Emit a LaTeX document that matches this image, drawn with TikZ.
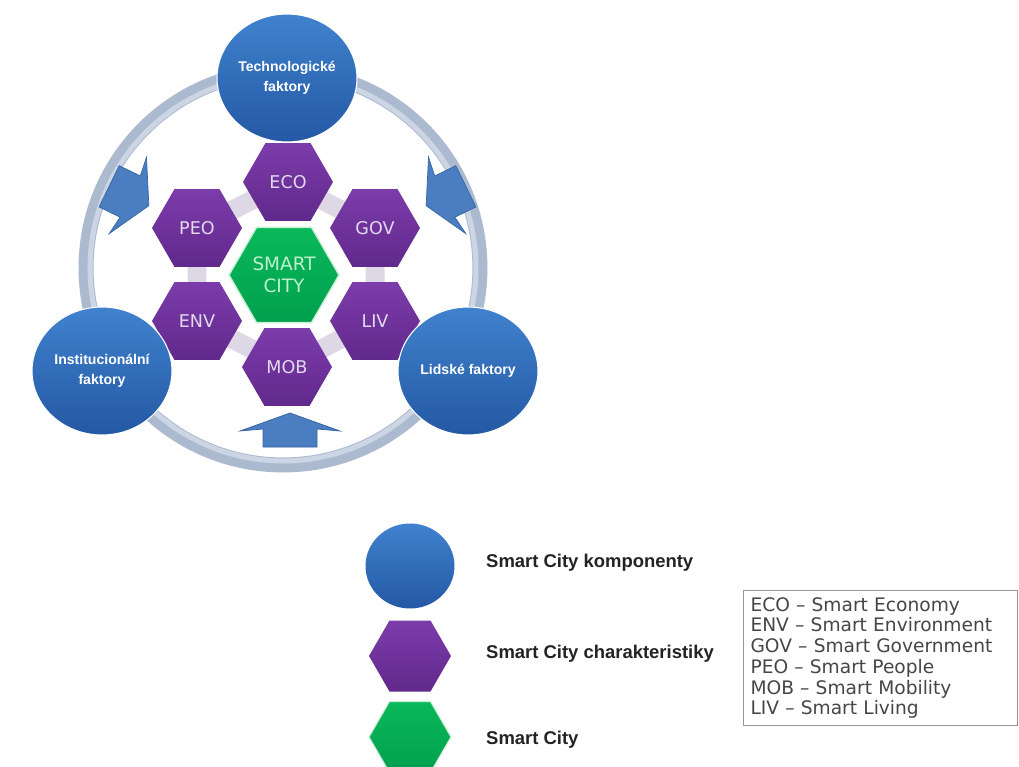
\documentclass[tikz,border=0pt]{standalone}
\usepackage{fontspec}
\setmainfont{Liberation Sans}
\newfontfamily\boxfont{DejaVu Sans}
\usetikzlibrary{shapes.geometric}

\definecolor{ringc}{RGB}{172,186,208}
\definecolor{ringlight}{RGB}{204,213,227}
\definecolor{bandc}{RGB}{222,216,230}
\definecolor{bluetop}{RGB}{64,130,206}
\definecolor{bluebot}{RGB}{36,88,164}
\definecolor{purtop}{RGB}{124,60,170}
\definecolor{purbot}{RGB}{97,41,140}
\definecolor{grntop}{RGB}{10,184,90}
\definecolor{grnbot}{RGB}{0,160,78}
\definecolor{grnedge}{RGB}{200,240,212}
\definecolor{arrowc}{RGB}{74,126,193}
\definecolor{arrowedge}{RGB}{55,100,165}
\definecolor{hextext}{RGB}{226,216,240}
\definecolor{citytext}{RGB}{190,242,205}
\definecolor{legtext}{RGB}{35,35,35}
\definecolor{boxtext}{RGB}{70,70,70}
\definecolor{boxedge}{RGB}{150,150,150}

\tikzset{
  factor/.style={ellipse, draw=white, line width=0.6pt, top color=bluetop, bottom color=bluebot,
    minimum width=2.8cm, minimum height=2.56cm, inner sep=0pt, align=center,
    text=white, font=\fontsize{8}{11.5}\selectfont\bfseries},
  charhex/.style={regular polygon, regular polygon sides=6, minimum size=1.8cm, inner sep=0pt,
    top color=purtop, bottom color=purbot, text=hextext, font=\boxfont\fontsize{10}{12}\selectfont},
  cityhex/.style={regular polygon, regular polygon sides=6, minimum size=2.2cm, inner sep=0pt,
    draw=grnedge, line width=0.8pt, top color=grntop, bottom color=grnbot,
    text=citytext, align=center, font=\boxfont\fontsize{10.5}{12.5}\selectfont},
  legtxt/.style={anchor=west, text=legtext, font=\fontsize{10.5}{12}\selectfont\bfseries},
  inarrow/.pic={
    \path[fill=arrowc, draw=arrowedge, line width=0.4pt, line join=miter]
      (0,-17) -- (50,1) -- (27,-1) -- (27,17) -- (-27,17) -- (-27,-1) -- (-50,1) -- cycle;
  }
}

\begin{document}
\begin{tikzpicture}[x=0.02cm, y=-0.02cm]
\useasboundingbox (0,0) rectangle (1019,767);
\clip (0,0) rectangle (1019,767);
\fill[white] (0,0) rectangle (1019,767);

% outer cycle ring
\draw[ringc, line width=0.3cm] (283,268) circle [radius=3.94cm];
\draw[ringlight, line width=0.1cm] (283,268) circle [radius=3.86cm];

% pale bands joining the characteristic hexagons
\draw[bandc, line width=0.38cm, line join=round]
  (288,182) -- (375,228) -- (375,321) -- (287,367) -- (197,321) -- (197,228) -- cycle;

% inward block arrows on the ring
\pic at (129,196) [rotate=-116, xscale=0.85, yscale=1.3] {inarrow};
\pic at (446,196) [rotate=116, xscale=0.85, yscale=1.3] {inarrow};
\pic at (290,430) {inarrow};

% Smart City characteristics
\node[charhex] (eco) at (288,182) {ECO};
\node[charhex] (peo) at (197,228) {PEO};
\node[charhex] (gov) at (375,228) {GOV};
\node[charhex] (env) at (197,321) {ENV};
\node[charhex] (liv) at (375,321) {LIV};
\node[charhex] (mob) at (287,367) {MOB};
\node[cityhex] (city) at (284,275) {SMART\\CITY};

% Smart City components
\node[factor] (tech) at (287,78) {Technologické\\faktory};
\node[factor] (inst) at (102,371) {Institucionální\\faktory};
\node[factor] (lid) at (468,371) {Lidské faktory};

% legend
\node[ellipse, top color=bluetop, bottom color=bluebot, minimum width=1.78cm, minimum height=1.7cm, inner sep=0pt] (legcirc) at (410,566) {};
\node[legtxt] (legcirct) at (480,563) {Smart City komponenty};
\node[regular polygon, regular polygon sides=6, minimum size=1.64cm, inner sep=0pt, top color=purtop, bottom color=purbot] (leghex) at (410,656) {};
\node[legtxt] (leghext) at (480,654) {Smart City charakteristiky};
\node[regular polygon, regular polygon sides=6, minimum size=1.64cm, inner sep=0pt, draw=grnedge, line width=0.6pt, top color=grntop, bottom color=grnbot] (leggrn) at (410,737) {};
\node[legtxt] (leggrnt) at (480,740) {Smart City};

% abbreviations box
\node[draw=boxedge, line width=0.6pt, anchor=north west, minimum width=5.48cm, minimum height=2.7cm,
  inner xsep=0.13cm, inner ysep=0pt, text width=5.2cm, align=left, text=boxtext,
  font=\boxfont\fontsize{10.6}{11.8}\selectfont] (abbr) at (743,590)
  {ECO – Smart Economy\\ENV – Smart Environment\\GOV – Smart Government\\PEO – Smart People\\MOB – Smart Mobility\\LIV – Smart Living};
\end{tikzpicture}
\end{document}
